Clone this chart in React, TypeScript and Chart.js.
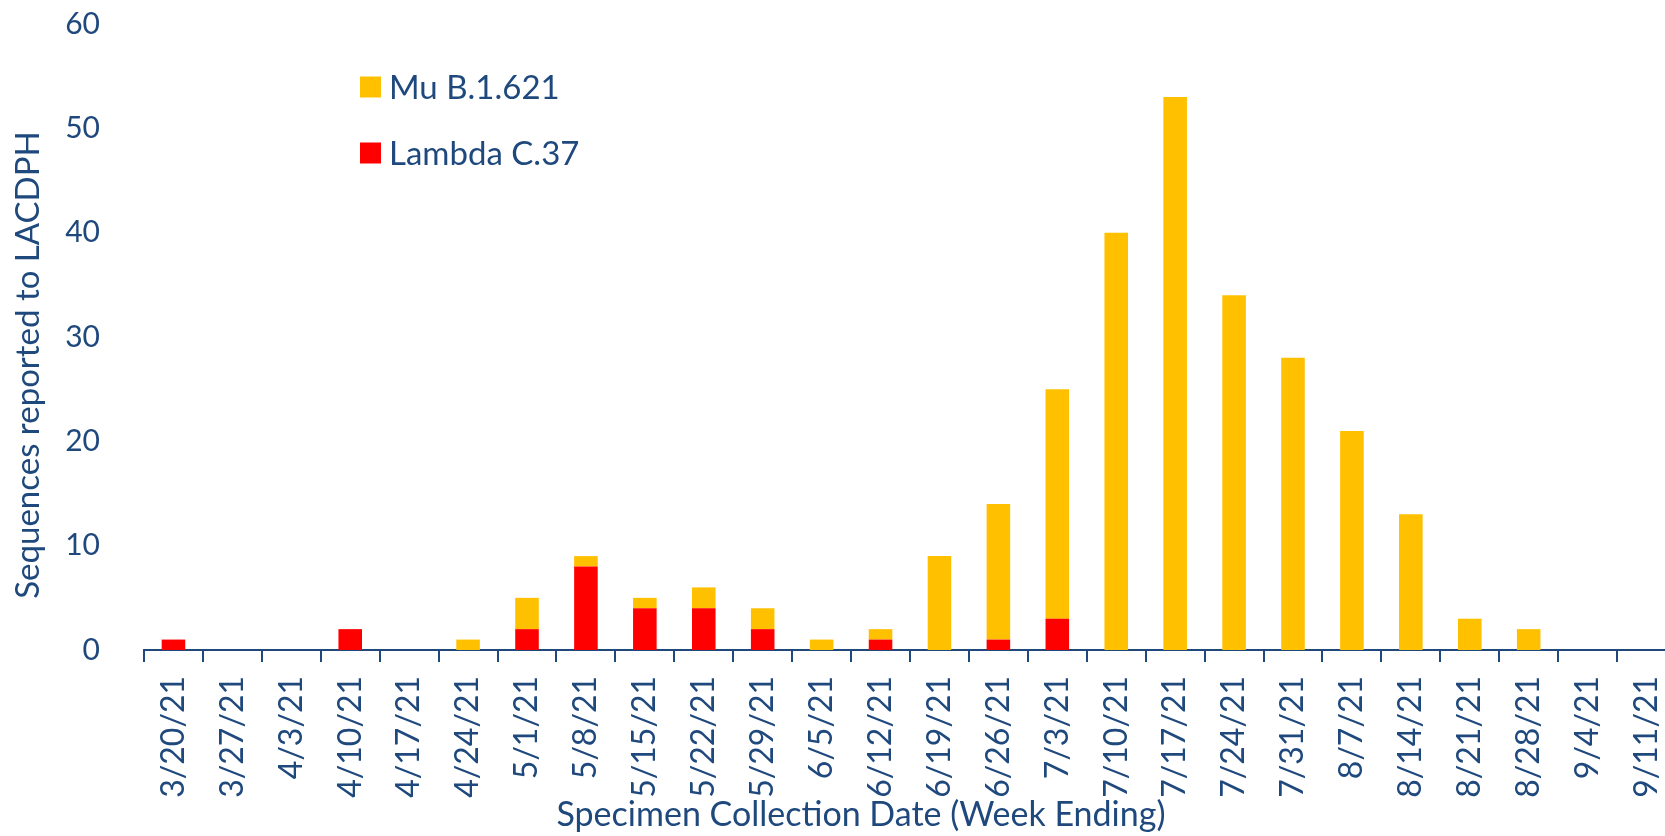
import React, { useEffect, useRef } from "react";
import { Chart, registerables } from "chart.js";

Chart.register(...registerables);

const weekLabels = [
  "3/20/21", "3/27/21", "4/3/21", "4/10/21", "4/17/21", "4/24/21", "5/1/21",
  "5/8/21", "5/15/21", "5/22/21", "5/29/21", "6/5/21", "6/12/21", "6/19/21",
  "6/26/21", "7/3/21", "7/10/21", "7/17/21", "7/24/21", "7/31/21", "8/7/21",
  "8/14/21", "8/21/21", "8/28/21", "9/4/21", "9/11/21",
];

const lambdaC37 = [1, 0, 0, 2, 0, 0, 2, 8, 4, 4, 2, 0, 1, 0, 1, 3, 0, 0, 0, 0, 0, 0, 0, 0, 0, 0];
const muB1621 = [0, 0, 0, 0, 0, 1, 3, 1, 1, 2, 2, 1, 1, 9, 13, 22, 40, 53, 34, 28, 21, 13, 3, 2, 0, 0];

const yTickValues = [0, 10, 20, 30, 40, 50, 60];

const yTitle = "Sequences reported to LACDPH";
const xTitle = "Specimen Collection Date (Week Ending)";

const TEXT = "#1F497D";
const FONT = "Lato, 'Open Sans', sans-serif";

const overlayPlugin = {
  id: "overlayText",
  afterDraw(chart: any) {
    const ctx = chart.ctx;
    ctx.save();
    // legend (Mu on top, Lambda below)
    const items = [...chart.data.datasets].reverse();
    ctx.font = `33px ${FONT}`;
    ctx.textBaseline = "middle";
    ctx.textAlign = "left";
    items.forEach((ds: any, i: number) => {
      const cy = 87 + i * 66;
      ctx.fillStyle = ds.backgroundColor;
      ctx.fillRect(360, cy - 10.5, 21, 21);
      ctx.fillStyle = TEXT;
      ctx.fillText(ds.label, 389, cy + 1);
    });
    // x title
    ctx.font = `34px ${FONT}`;
    ctx.textAlign = "center";
    ctx.textBaseline = "alphabetic";
    ctx.fillStyle = TEXT;
    ctx.fillText(xTitle, 861, 826);
    // y title
    ctx.font = `33px ${FONT}`;
    ctx.translate(28, 365);
    ctx.rotate(-Math.PI / 2);
    ctx.textBaseline = "middle";
    ctx.fillText(yTitle, 0, 0);
    ctx.restore();
  },
};

export default function App() {
  const canvasRef = useRef<HTMLCanvasElement | null>(null);

  useEffect(() => {
    document.body.style.margin = "0";
    document.body.style.overflow = "hidden";
    const canvas = canvasRef.current;
    if (!canvas) return;
    const chart = new Chart(canvas, {
      type: "bar",
      data: {
        labels: weekLabels,
        datasets: [
          {
            label: "Lambda C.37",
            data: lambdaC37,
            backgroundColor: "#FF0000",
            barPercentage: 0.4,
            categoryPercentage: 1,
          },
          {
            label: "Mu B.1.621",
            data: muB1621,
            backgroundColor: "#FFC000",
            barPercentage: 0.4,
            categoryPercentage: 1,
          },
        ],
      },
      options: {
        animation: false,
        responsive: false,
        maintainAspectRatio: false,
        devicePixelRatio: 1,
        layout: { padding: { top: 24, left: 0, right: 0, bottom: 0 } },
        plugins: {
          legend: { display: false },
          tooltip: { enabled: false },
        },
        scales: {
          x: {
            stacked: true,
            offset: true,
            grid: {
              display: true,
              offset: true,
              drawOnChartArea: false,
              drawTicks: true,
              tickLength: 12,
              color: TEXT,
              lineWidth: 2,
            },
            border: { display: true, color: TEXT, width: 2 },
            ticks: {
              color: TEXT,
              font: { family: FONT, size: 32 },
              minRotation: 90,
              maxRotation: 90,
              autoSkip: false,
              padding: 14,
            },
            afterFit: (s: any) => {
              s.height = 186;
              s.paddingLeft = 0;
              s.paddingRight = 0;
            },
          },
          y: {
            stacked: true,
            min: 0,
            max: 60,
            grid: { display: false },
            border: { display: false },
            ticks: {
              color: TEXT,
              font: { family: FONT, size: 30 },
              padding: 36,
            },
            afterBuildTicks: (s: any) => {
              s.ticks = yTickValues.map((v) => ({ value: v }));
            },
            afterFit: (s: any) => {
              s.width = 144;
              s.paddingTop = 0;
              s.paddingBottom = 0;
            },
          },
        },
      },
      plugins: [overlayPlugin],
    });
    return () => chart.destroy();
  }, []);

  return (
    <div style={{ position: "fixed", left: 0, top: 0, width: 1665, height: 836, overflow: "hidden", background: "#fff" }}>
      <canvas ref={canvasRef} width={1676} height={836} style={{ display: "block", width: 1676, height: 836 }} />
    </div>
  );
}
